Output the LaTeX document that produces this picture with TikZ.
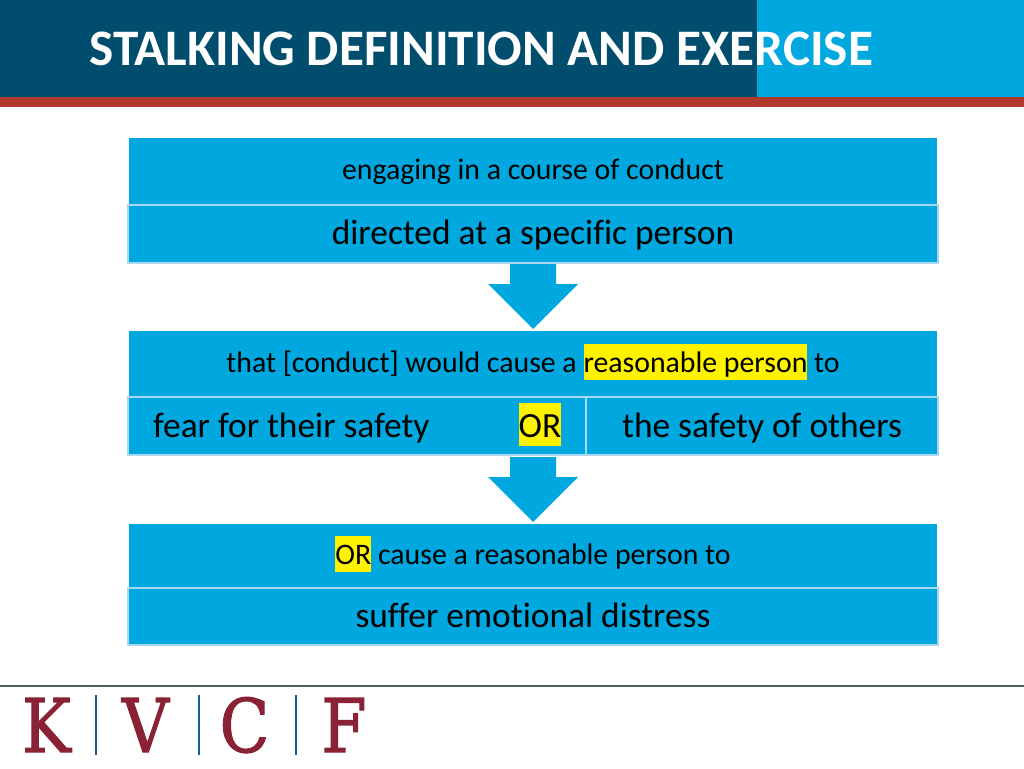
\documentclass[tikz,border=0pt]{standalone}
\usepackage{fontspec}
\setmainfont{Carlito}[Ligatures=NoCommon]
\newfontfamily\slabfont{DejaVu Serif}[FakeBold=1.6]
\definecolor{hdrdark}{HTML}{004D6D}
\definecolor{cyanblue}{HTML}{00A8DF}
\definecolor{redbar}{HTML}{AE392C}
\definecolor{edgeblue}{HTML}{A9D6F0}
\definecolor{footline}{HTML}{4A6464}
\definecolor{logored}{HTML}{8A2236}
\definecolor{logoblue}{HTML}{1A5C98}
\newcommand{\hlt}[1]{{\setlength{\fboxsep}{0pt}\colorbox{yellow}{\rule[-0.25em]{0pt}{1.21em}#1}}}
\tikzset{
  x=1pt,y=-1pt,
  headbox/.style={fill=cyanblue,draw=none,inner sep=0pt,outer sep=0pt,anchor=north west},
  subbox/.style={fill=cyanblue,draw=edgeblue,line width=2.2pt,inner sep=0pt,outer sep=0pt,anchor=north west},
  small/.style={text=black,font=\fontsize{29.8}{33}\selectfont,inner sep=0pt},
  big/.style={text=black,font=\fontsize{35.4}{39}\selectfont,inner sep=0pt},
  logo/.style={text=logored,font=\slabfont\fontsize{74}{74}\selectfont,inner sep=0pt,anchor=base,xscale=0.88},
  logosep/.style={draw=logoblue,line width=2.5pt},
  arrowshape/.style={fill=cyanblue,draw=none},
}
\begin{document}
\begin{tikzpicture}
\useasboundingbox (0,0) rectangle (1024,768);
\fill[white] (0,0) rectangle (1024,768);
% header
\fill[hdrdark] (0,0) rectangle (757,97);
\fill[cyanblue] (757,0) rectangle (1024,97);
\fill[redbar] (0,97) rectangle (1024,107);
\node[text=white,font=\bfseries\fontsize{51.2}{54}\selectfont,inner sep=0pt,anchor=base west] (title) at (89.5,65) {STALKING DEFINITION AND EXERCISE};
% group 1
\node[headbox,minimum width=808pt,minimum height=66pt] (h1) at (129,138) {};
\node[subbox,minimum width=810pt,minimum height=58pt] (s1) at (128,205) {};
\node[small,anchor=base] (t1) at (533,179.7) {engaging in a course of conduct};
\node[big,anchor=base] (u1) at (533,244.7) {directed at a specific person};
% arrow 1
\fill[arrowshape] (510,264) -- (556,264) -- (556,284) -- (578,284) -- (533,329) -- (488,284) -- (510,284) -- cycle;
% group 2
\node[headbox,minimum width=808pt,minimum height=65pt] (h2) at (129,331) {};
\node[subbox,minimum width=458pt,minimum height=58pt] (s2a) at (128,397) {};
\node[subbox,minimum width=352pt,minimum height=58pt] (s2b) at (586,397) {};
\node[small,anchor=base] (t2) at (533,372.7) {that [conduct] would cause a \hlt{reasonable person} to};
\node[big,anchor=base west] (u2a) at (153,437) {fear for their safety};
\node[big,anchor=base] (u2or) at (540,437) {\hlt{OR}};
\node[big,anchor=base] (u2b) at (762,437) {the safety of others};
% arrow 2
\fill[arrowshape] (510,457) -- (556,457) -- (556,477) -- (578,477) -- (533,522) -- (488,477) -- (510,477) -- cycle;
% group 3
\node[headbox,minimum width=808pt,minimum height=63pt] (h3) at (129,523.5) {};
\node[subbox,minimum width=810pt,minimum height=57pt] (s3) at (128,588) {};
\node[small,anchor=base] (t3) at (533,564.7) {\hlt{OR} cause a reasonable person to};
\node[big,anchor=base] (u3) at (533,627) {suffer emotional distress};
% footer
\draw[footline,line width=1.5pt] (0,686) -- (1024,686);
\node[logo] (lk) at (46.5,752) {K};
\node[logo] (lv) at (145.5,752) {V};
\node[logo] (lc) at (244.5,752) {C};
\node[logo] (lf) at (344,752) {F};
\draw[logosep] (96,695) -- (96,755);
\draw[logosep] (199,695) -- (199,755);
\draw[logosep] (296,695) -- (296,755);
\end{tikzpicture}
\end{document}
